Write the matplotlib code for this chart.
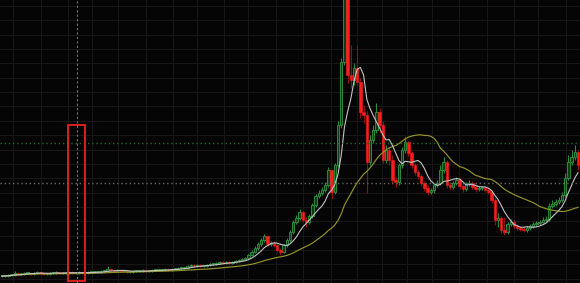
import numpy as np
import pandas as pd
import matplotlib
matplotlib.use("Agg")
import matplotlib.pyplot as plt
from matplotlib.patches import Rectangle

# ---- data (weekly candles, price units) ----
opens = [7,7,7,8,8,10,9,9,10,10,
         9,10,11,10,9,9,10,10,11,10,
         10,10,11,10,10,11,10,10,11,11,
         11,11,12,12,14,13,12,13,12,12,
         11,11,12,12,12,13,12,12,13,13,
         13,13,14,13,14,14,15,15,15,17,
         18,17,18,17,17,18,19,19,20,21,
         20,21,20,21,22,23,24,25,28,31,
         35,39,43,47,39,40,38,33,31,38,
         43,51,61,65,71,63,61,67,78,87,
         90,93,98,113,91,118,158,221,290,208,
         203,215,201,171,168,121,143,153,171,158,
         123,133,123,103,101,118,133,141,130,118,
         111,107,100,95,91,93,98,100,113,121,
         98,96,100,103,97,94,99,100,96,94,
         95,95,93,91,83,63,65,53,51,59,
         61,57,55,54,53,55,57,59,60,61,
         63,64,77,79,81,83,88,105,121,126,131]
closes = [7,7,8,8,10,9,9,10,10,9,
          10,11,10,9,9,10,10,11,10,10,
          10,11,10,10,11,10,10,11,11,11,
          11,12,12,14,13,12,13,12,12,11,
          11,12,12,12,13,12,12,13,13,13,
          13,14,13,14,14,15,15,15,17,18,
          17,18,17,17,18,19,19,20,21,20,
          21,20,21,22,23,24,25,28,31,35,
          39,43,47,39,40,38,33,31,38,43,
          51,61,65,71,63,61,67,78,87,90,
          93,98,113,91,118,158,221,290,208,203,
          215,201,171,168,121,143,153,171,158,123,
          133,123,103,101,118,133,141,130,118,111,
          107,100,95,91,93,98,100,113,121,98,
          96,100,103,97,94,99,100,96,94,95,
          95,93,91,83,63,65,53,51,59,61,
          57,55,54,53,55,57,59,60,61,63,
          64,77,79,81,83,88,105,121,126,131,118]
highs = [8,8,9,9,12,10,10,11,11,10,
         11,12,11,10,10,11,11,12,11,11,
         11,12,12,11,12,11,11,12,12,12,
         12,13,13,17,15,13,14,13,13,12,
         12,13,13,13,14,14,13,14,14,14,
         14,15,15,15,15,16,16,16,18,19,
         19,19,19,18,19,20,20,21,22,22,
         22,22,22,23,24,25,26,29,33,37,
         41,45,49,48,42,42,40,35,39,45,
         53,63,68,74,72,66,69,80,89,93,
         96,101,116,114,120,162,225,330,300,238,
         220,238,205,178,172,148,158,180,175,162,
         138,136,128,106,120,136,146,142,132,120,
         113,109,102,98,95,100,103,118,126,123,
         101,102,106,105,99,101,103,102,98,97,
         97,97,95,93,85,70,67,66,61,64,
         63,59,57,56,57,59,61,62,63,66,
         67,80,83,84,86,91,110,128,133,138,133]
lows = [6,6,6,7,7,8,8,8,9,8,
        8,9,9,8,8,8,9,9,9,9,
        9,9,9,9,9,9,9,9,10,10,
        10,10,11,11,12,11,11,11,11,10,
        10,10,11,11,11,11,11,11,12,12,
        12,12,12,12,13,13,14,14,14,16,
        16,16,16,16,16,17,18,18,19,19,
        19,19,19,20,21,22,23,24,27,30,
        33,37,41,37,37,36,31,28,30,36,
        41,49,59,63,61,56,59,65,76,85,
        88,91,96,85,89,116,155,218,200,195,
        198,198,165,160,90,118,140,150,150,120,
        120,118,99,96,98,115,130,127,115,108,
        104,97,92,88,89,90,96,98,110,95,
        93,94,98,94,91,92,97,94,91,92,
        93,91,89,80,58,56,50,48,49,57,
        55,53,52,51,51,53,55,57,58,60,
        61,62,75,77,79,81,86,103,118,123,113]

fast_window = 7
slow_window = 30
level_green = 140
level_gray = 100
highlight_x = (20.63, 25.94)
highlight_y = (2, 158)
marker_x = 23.44

# ---- styles ----
BG = '#050505'
GRID = '#171717'
UP_EDGE = '#2a8a3c'
UP_FACE = '#0e3a18'
DN = '#ff1c1c'
DN_WICK = '#8a1212'

o = np.array(opens, float); c = np.array(closes, float)
h = np.array(highs, float); l = np.array(lows, float)
n = len(c)
idx = np.arange(n)

fig = plt.figure(figsize=(5.8, 2.83), dpi=100, facecolor=BG)
ax = fig.add_axes([0, 0, 1, 1])
ax.set_facecolor(BG)
ax.set_xlim(-0.625, n - 0.375)
ax.set_ylim(0, 283)

# grid
xt = [3.44, 12.19, 20.63, 28.13, 36.25, 45.0, 53.44, 60.94, 69.38, 76.88,
      85.63, 94.06, 102.81, 110.94, 118.75, 126.56, 134.38, 142.81, 151.56,
      160.0, 167.5, 176.25]
yt = [277 - 14.35 * k for k in range(20)]
ax.set_xticks(xt)
ax.set_yticks(yt)
ax.grid(True, color=GRID, linewidth=0.8)
ax.set_axisbelow(True)
ax.tick_params(length=0, labelbottom=False, labelleft=False)
for s in ax.spines.values():
    s.set_visible(False)

up = c >= o
body_lo = np.minimum(o, c)
body_h = np.maximum(np.abs(c - o), 0.8)

# wicks
ax.vlines(idx[up], l[up], h[up], color=UP_EDGE, linewidth=0.8, zorder=2)
ax.vlines(idx[~up], l[~up], h[~up], color=DN_WICK, linewidth=0.8, zorder=2)
# bodies
w = 0.72
ax.bar(idx[up], body_h[up], bottom=body_lo[up], width=w, color=UP_FACE,
       edgecolor=UP_EDGE, linewidth=0.7, zorder=3)
ax.bar(idx[~up], body_h[~up], bottom=body_lo[~up], width=w, color=DN,
       edgecolor=DN, linewidth=0.4, zorder=3)

# moving averages
cs = pd.Series(c)
ma_fast = cs.rolling(fast_window, min_periods=1).mean()
ma_slow = cs.rolling(slow_window, min_periods=1).mean()
ax.plot(idx, ma_slow, color='#94942a', linewidth=0.85, zorder=4)
ax.plot(idx, ma_fast, color='#c4c4c4', linewidth=0.8, zorder=4)

# level lines
ax.axhline(level_green, color='#1f6a2c', linewidth=1.0, linestyle=(0, (1, 2)), zorder=5)
ax.axhline(level_gray, color='#666666', linewidth=1.0, linestyle=(0, (1, 2)), zorder=5)
ax.axvline(marker_x, color='#747474', linewidth=0.8, linestyle=(0, (2, 2)), zorder=5)

# highlight box
ax.add_patch(Rectangle((highlight_x[0], highlight_y[0]),
                       highlight_x[1] - highlight_x[0],
                       highlight_y[1] - highlight_y[0],
                       fill=False, edgecolor='#e8231c', linewidth=1.3, zorder=6))

fig.savefig('out.png', dpi=100, facecolor=BG)
